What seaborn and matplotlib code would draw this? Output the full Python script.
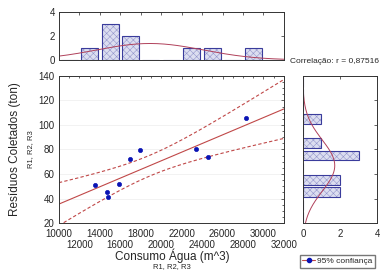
import numpy as np
import pandas as pd
import matplotlib
matplotlib.use("Agg")
import matplotlib.pyplot as plt
from matplotlib.lines import Line2D
import seaborn as sns

# data
consumo = [13500, 14750, 14800, 15900, 16950, 17950, 23400, 24600, 28300]
residuos = [51.0, 45.5, 41.5, 51.8, 72.0, 79.6, 80.7, 73.9, 105.7]
x_bins = np.arange(10000, 32001, 2000)
y_bins = np.arange(20, 141, 10)
x_ticks_row1 = [10000, 14000, 18000, 22000, 26000, 30000]
x_ticks_row2 = [12000, 16000, 20000, 24000, 28000, 32000]
y_ticks = [20, 40, 60, 80, 100, 120, 140]
corr_text = "Correlação: r = 0,87516"

df = pd.DataFrame({"consumo": consumo, "residuos": residuos})

sns.set_style("white")
plt.rcParams["font.family"] = ["Liberation Sans", "DejaVu Sans"]
plt.rcParams["hatch.linewidth"] = 0.4

BAR_FACE = "#dcdef0"
HATCH = "#9496cc"
BAR_EDGE = "#3a3c9c"
CURVE = "#b0405a"
LINE = "#c04848"
DOT = "#0a14b4"

fig = plt.figure(figsize=(3.8, 2.75), dpi=100)
ax = fig.add_axes([0.155, 0.189, 0.592, 0.535])
ax_top = fig.add_axes([0.155, 0.782, 0.592, 0.174])
ax_side = fig.add_axes([0.797, 0.189, 0.196, 0.535])

# --- regression + 95% CI of the mean ---
x = df["consumo"].values
y = df["residuos"].values
n = len(x)
b1, b0 = np.polyfit(x, y, 1)
xs = np.linspace(10000, 32000, 200)
fit = b0 + b1 * xs
resid = y - (b0 + b1 * x)
s = np.sqrt(np.sum(resid ** 2) / (n - 2))
tval = 2.365  # t(0.975, 7)
se = s * np.sqrt(1 / n + (xs - x.mean()) ** 2 / np.sum((x - x.mean()) ** 2))
band = pd.DataFrame({"x": xs, "fit": fit, "lo": fit - tval * se, "hi": fit + tval * se})

ax.yaxis.grid(True, color="#f0f0f0", lw=0.6)
sns.lineplot(data=band, x="x", y="fit", ax=ax, color=LINE, lw=0.8)
sns.lineplot(data=band, x="x", y="lo", ax=ax, color=LINE, lw=0.8, ls=(0, (3, 2)))
sns.lineplot(data=band, x="x", y="hi", ax=ax, color=LINE, lw=0.8, ls=(0, (3, 2)))
sns.scatterplot(data=df, x="consumo", y="residuos", ax=ax, color=DOT, s=9,
                edgecolor=DOT, linewidth=0.5, zorder=5)
ax.set_xlim(10000, 32000)
ax.set_ylim(20, 140)
ax.set_xticks(x_ticks_row1)
ax.set_yticks(y_ticks)
ax.set_xticks(np.arange(10000, 32001, 1000), minor=True)
ax.set_yticks(np.arange(20, 141, 5), minor=True)
ax.tick_params(axis="both", which="both", direction="in", top=True, right=True,
               length=2, width=0.5, labelsize=7, pad=3)
ax.tick_params(axis="x", pad=4)
ax.tick_params(which="minor", length=1.2)
ax.set_xlabel("")
ax.set_ylabel("")
sec = ax.secondary_xaxis("bottom")
sec.set_xticks(x_ticks_row2)
sec.tick_params(length=0, labelsize=7, pad=12)
sec.spines["bottom"].set_visible(False)

fig.text(0.453, 0.069, "Consumo Água (m^3)", ha="center", va="center", fontsize=8.5)
fig.text(0.453, 0.032, "R1, R2, R3", ha="center", va="center", fontsize=5.5)
fig.text(0.040, 0.458, "Resíduos Coletados (ton)", rotation=90, ha="center",
         va="center", fontsize=8.5)
fig.text(0.080, 0.458, "R1, R2, R3", rotation=90, ha="center", va="center", fontsize=5.5)

# --- top histogram ---
sns.histplot(x=consumo, bins=x_bins, shrink=0.83, ax=ax_top, color=BAR_FACE,
             edgecolor=HATCH, linewidth=0, hatch="xxxxx", alpha=1)
sns.histplot(x=consumo, bins=x_bins, shrink=0.83, ax=ax_top, fill=False,
             color=BAR_EDGE, linewidth=0.8)
mu, sd = x.mean(), x.std(ddof=1)
xx = np.linspace(10000, 32000, 200)
ax_top.plot(xx, n * 2000 * np.exp(-0.5 * ((xx - mu) / sd) ** 2) / (sd * np.sqrt(2 * np.pi)),
            color=CURVE, lw=0.7)
ax_top.set_xlim(10000, 32000)
ax_top.set_ylim(0, 4)
ax_top.set_yticks([0, 2, 4])
ax_top.set_xticks(np.arange(10000, 32001, 2000))
ax_top.set_xticklabels([])
ax_top.set_ylabel("")
ax_top.tick_params(axis="both", direction="in", top=True, right=True, length=2,
                   width=0.5, labelsize=7, pad=3)

# --- side histogram ---
sns.histplot(y=residuos, bins=y_bins, shrink=0.8, ax=ax_side, color=BAR_FACE,
             edgecolor=HATCH, linewidth=0, hatch="xxxxx", alpha=1)
sns.histplot(y=residuos, bins=y_bins, shrink=0.8, ax=ax_side, fill=False,
             color=BAR_EDGE, linewidth=0.8)
my, sy = y.mean(), y.std(ddof=1)
yy = np.linspace(20, 140, 200)
ax_side.plot(n * 10 * np.exp(-0.5 * ((yy - my) / sy) ** 2) / (sy * np.sqrt(2 * np.pi)), yy,
             color=CURVE, lw=0.7)
ax_side.set_ylim(20, 140)
ax_side.set_xlim(0, 4)
ax_side.set_xticks([0, 2, 4])
ax_side.set_yticks(y_ticks)
ax_side.set_yticklabels([])
ax_side.set_xlabel("")
ax_side.tick_params(axis="both", direction="in", top=True, right=True, length=2,
                    width=0.5, labelsize=7, pad=4)

for a in (ax, ax_top, ax_side):
    for sp in a.spines.values():
        sp.set_linewidth(0.7)
        sp.set_color("#333333")

fig.text(0.763, 0.778, corr_text, ha="left", va="center", fontsize=6)

handle = Line2D([0], [0], color=LINE, lw=0.8, marker="o", markersize=3,
                markerfacecolor=DOT, markeredgecolor=DOT)
fig.legend([handle], ["95% confiança"], loc="lower right", bbox_to_anchor=(0.998, 0.012),
           fontsize=6, frameon=True, fancybox=False, edgecolor="#555555",
           handlelength=1.5, handletextpad=0.3, borderpad=0.3)

fig.savefig("out.png", dpi=100)
